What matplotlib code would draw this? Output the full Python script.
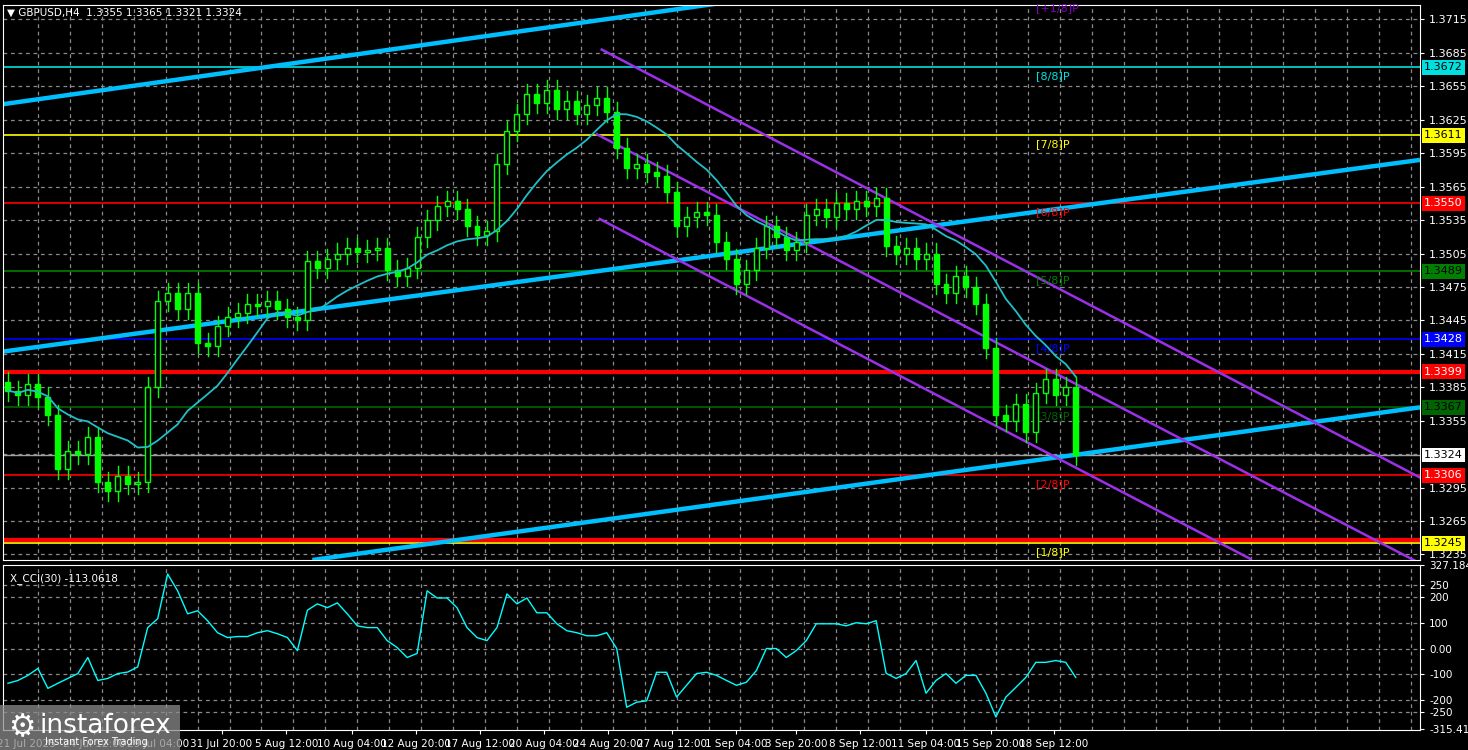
import numpy as np
import pandas as pd
import matplotlib
matplotlib.use("Agg")
from matplotlib import pyplot as plt
from matplotlib.patches import Rectangle

closes = [1.3382, 1.3378, 1.3388, 1.3376, 1.3360, 1.3312, 1.3328, 1.3325, 1.3340, 1.3300,
          1.3292, 1.3305, 1.3298, 1.3300, 1.3385, 1.3462, 1.3470, 1.3455, 1.3470, 1.3425,
          1.3422, 1.3440, 1.3448, 1.3452, 1.3460, 1.3458, 1.3462, 1.3455, 1.3448, 1.3445,
          1.3498, 1.3492, 1.3500, 1.3505, 1.3510, 1.3506, 1.3508, 1.3510, 1.3490, 1.3485,
          1.3492, 1.3520, 1.3535, 1.3548, 1.3552, 1.3545, 1.3530, 1.3522, 1.3525, 1.3585,
          1.3615, 1.3630, 1.3648, 1.3640, 1.3652, 1.3635, 1.3642, 1.3630, 1.3638, 1.3645,
          1.3632, 1.3600, 1.3582, 1.3585, 1.3578, 1.3575, 1.3560, 1.3530, 1.3538, 1.3542,
          1.3540, 1.3515, 1.3500, 1.3478, 1.3490, 1.3510, 1.3530, 1.3520, 1.3508, 1.3515,
          1.3540, 1.3545, 1.3538, 1.3550, 1.3545, 1.3552, 1.3548, 1.3555, 1.3512, 1.3505,
          1.3510, 1.3500, 1.3505, 1.3478, 1.3470, 1.3485, 1.3475, 1.3460, 1.3420, 1.3360,
          1.3355, 1.3370, 1.3345, 1.3380, 1.3392, 1.3378, 1.3385, 1.3324]
first_open = 1.3390
wick = 0.0009

# CCI(30) values per drawn candle
cci_vals = [-136, -125, -105, -78, -156, -136, -117, -98, -35, -125,
            -117, -98, -92, -72, 82, 117, 292, 226, 136, 148,
            109, 62, 43, 47, 47, 62, 70, 58, 43, -8,
            150, 175, 160, 179, 136, 89, 82, 82, 31, 4,
            -35, -19, 226, 198, 198, 160, 82, 43, 31, 82,
            214, 175, 198, 140, 140, 97, 70, 62, 50, 50,
            62, 0, -230, -210, -205, -93, -93, -190, -144, -98,
            -93, -105, -125, -144, -132, -86, 0, 0, -35, -8,
            31, 97, 97, 97, 89, 101, 97, 109, -97, -117,
            -98, -47, -175, -125, -98, -136, -105, -105, -175, -268,
            -190, -152, -113, -54, -54, -47, -54, -113]

# Murray levels
levels = [1.3733, 1.3672, 1.3611, 1.3550, 1.3489, 1.3428, 1.3367, 1.3306, 1.3245]
level_colors = ["#8000c0", "#00e0e0", "#ffff00", "#ff0000", "#008000", "#0000ff", "#006400", "#ff0000", "#ffff00"]
level_names = ["[+1/8]P", "[8/8]P", "[7/8]P", "[6/8]P", "[5/8]P", "[4/8]P", "[3/8]P", "[2/8]P", "[1/8]P"]
red_thick = [1.3399, 1.3248]
last_price = 1.3324

# trend lines (candle index, price)
blue_lines = [((-0.5, 1.3639), (74.0, 1.3733)),
              ((-0.5, 1.3417), (141.5, 1.3589)),
              ((30.5, 1.3230), (141.5, 1.3367))]
purple_lines = [((59.5, 1.3688), (141.5, 1.3304)),
                ((59.0, 1.3612), (141.5, 1.3227)),
                ((59.3, 1.3536), (124.5, 1.3231))]

price_ticks = [1.3235, 1.3265, 1.3295, 1.3355, 1.3385, 1.3415, 1.3445, 1.3475, 1.3505,
               1.3535, 1.3565, 1.3595, 1.3625, 1.3655, 1.3685, 1.3715]
time_labels = ["21 Jul 2025", "24 Jul 12:00", "29 Jul 04:00", "31 Jul 20:00", "5 Aug 12:00",
               "10 Aug 04:00", "12 Aug 20:00", "17 Aug 12:00", "20 Aug 04:00", "24 Aug 20:00",
               "27 Aug 12:00", "1 Sep 04:00", "3 Sep 20:00", "8 Sep 12:00", "11 Sep 04:00",
               "15 Sep 20:00", "18 Sep 12:00"]
time_pos_px = [23, 91, 155, 219, 284, 350, 414, 478, 542, 606, 670, 735, 795, 859, 925, 990, 1053]
cci_ticks = [-315.411, -250, -200, -100, 0, 100, 200, 250, 327.1846]
cci_labels = ["-315.411", "-250", "-200", "-100", "0.00", "100", "200", "250", "327.184"]

c = np.array(closes)
o = np.concatenate([[first_open], c[:-1]])
h = np.maximum(o, c) + wick
l = np.minimum(o, c) - wick
idx = np.arange(len(c))
ma = pd.Series(c).rolling(13, min_periods=1).mean().values

W, H = 1468, 750
fig = plt.figure(figsize=(W / 100, H / 100), dpi=100, facecolor="black")
ax = fig.add_axes([3 / W, 1 - 560 / H, 1417 / W, 555 / H], facecolor="black")
ax2 = fig.add_axes([3 / W, 1 - 730 / H, 1417 / W, 165 / H], facecolor="black")

def px2i(x):
    return (x - 5) / 10.0

xmin, xmax = px2i(0), px2i(1420)
grid_x = [px2i(x) for x in np.arange(35, 1420, 32)]
for a in (ax, ax2):
    a.set_xlim(xmin, xmax)
    for gx in grid_x:
        a.axvline(gx, color="#8a8a8a", ls=(0, (3, 3)), lw=0.9, zorder=0)
    for s in a.spines.values():
        s.set_color("white")
    a.tick_params(colors="white", labelsize=8, length=3, direction="out")
    a.yaxis.tick_right()

ax.set_ylim(1.3230, 1.3728)
for t in price_ticks + [1.3325]:
    ax.axhline(t, color="#8a8a8a", ls=(0, (3, 3)), lw=0.9, zorder=0)

for p, col, name in zip(levels, level_colors, level_names):
    ax.axhline(p, color=col, lw=1.2, zorder=1)
    ax.text(px2i(1035), p - 0.0003, name, color=col, fontsize=8, va="top", ha="left")
for p in red_thick:
    ax.axhline(p, color="#ff0000", lw=3, zorder=1)
ax.axhline(last_price, color="#a0a0a0", lw=1, zorder=1)

for (x0, y0), (x1, y1) in blue_lines:
    ax.plot([x0, x1], [y0, y1], color="#00bfff", lw=3.2, zorder=2, solid_capstyle="butt")
for (x0, y0), (x1, y1) in purple_lines:
    ax.plot([x0, x1], [y0, y1], color="#9b30e8", lw=1.8, zorder=2)

# candles
for i in idx:
    ax.plot([i, i], [l[i], h[i]], color="#00ff00", lw=1, zorder=3)
    up = c[i] >= o[i]
    ax.add_patch(Rectangle((i - 0.25, min(o[i], c[i])), 0.5, max(abs(c[i] - o[i]), 0.00008),
                           facecolor="black" if up else "#00ff00", edgecolor="#00ff00", lw=1, zorder=4))
ax.plot(idx, ma, color="#20c0c8", lw=1.3, zorder=5)

ax.set_yticks(price_ticks)
ax.set_yticklabels([f"{t:.4f}" for t in price_ticks])
ax.set_xticks([])
box_vals = levels[1:] + [1.3399, 1.3245, last_price]
box_cols = level_colors[1:] + ["#ff0000", "#ffff00", "#ffffff"]
for p, col in zip(box_vals, box_cols):
    tc = "black" if col in ("#ffff00", "#00e0e0", "#ffffff", "#006400", "#008000") else "white"
    ax.text(1.003, p, f"{p:.4f}", transform=ax.get_yaxis_transform(), color=tc, fontsize=8,
            va="center", ha="left", bbox=dict(boxstyle="square,pad=0.2", fc=col, ec="none"),
            clip_on=False)
ax.text(0.003, 0.995, "\u25bc GBPUSD,H4  1.3355 1.3365 1.3321 1.3324", transform=ax.transAxes,
        color="white", fontsize=7.5, va="top")

# CCI
ax2.set_ylim(-319, 323)
for t in [-250, -200, -100, 0, 100, 200, 250]:
    ax2.axhline(t, color="#8a8a8a", ls=(0, (3, 3)), lw=0.9, zorder=0)
ax2.plot(idx, cci_vals, color="#00ffff", lw=1)
ax2.set_yticks(cci_ticks)
ax2.set_yticklabels(cci_labels)
ax2.tick_params(axis="y", labelsize=7.5)
ax2.set_xticks([px2i(x) for x in time_pos_px])
ax2.set_xticklabels(time_labels)
ax2.tick_params(axis="x", labelsize=7.5)
ax2.text(0.005, 0.95, "X_CCI(30) -113.0618", transform=ax2.transAxes, color="white", fontsize=7.5, va="top")

# watermark
fig.patches.append(Rectangle((0, 0), 180 / W, 45 / H, transform=fig.transFigure,
                             facecolor="#8c8c8c", alpha=0.75, zorder=10))
fig.text(40 / W, 24 / H, "instaforex", color="white", fontsize=19, va="center", zorder=11)
fig.text(45 / W, 8 / H, "Instant Forex Trading", color="white", fontsize=7, va="center", zorder=11)
fig.text(8 / W, 22 / H, "\u2699", color="white", fontsize=22, va="center", zorder=11)

fig.savefig("out.png", dpi=100, facecolor="black")
